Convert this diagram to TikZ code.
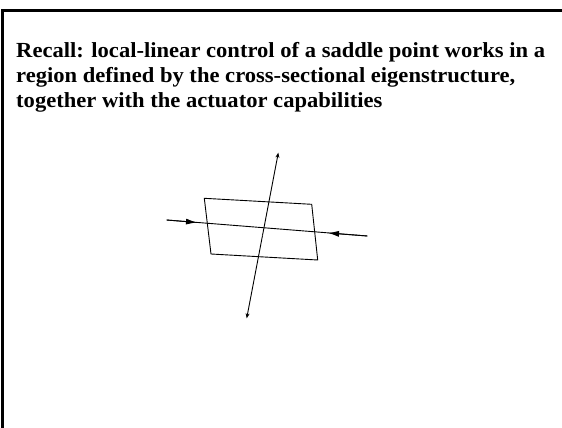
\documentclass[tikz,border=0pt]{standalone}
\usepackage{fontspec}
\setmainfont{Liberation Serif}
\usetikzlibrary{arrows.meta}
\begin{document}
\begin{tikzpicture}[x=1pt,y=-1pt,
  frame/.style={line width=3pt},
  thin/.style={line width=0.9pt},
  tip/.style={-{Stealth[length=5pt,width=4pt]}},
  midtip/.style={-{Latex[length=11pt,width=6pt]}},
  titlefont/.style={font=\fontsize{21.5}{25}\selectfont\bfseries,xscale=1.05,transform shape,anchor=base west,inner sep=0pt}]
\useasboundingbox (0,0) rectangle (562,428);
\draw[frame] (2.5,428) -- (2.5,10.5) -- (562,10.5);
\node[titlefont] (l1) at (16,57.3)
 {Recall: local-linear control of a saddle point works in a};
\node[titlefont] (l2) at (16,82.3)
 {region defined by the cross-sectional eigenstructure,};
\node[titlefont] (l3) at (16,107.3)
 {together with the actuator capabilities};
% parallelogram
\coordinate (tl) at (204.3,198.3);
\coordinate (tr) at (311.7,204.3);
\coordinate (br) at (317.7,260);
\coordinate (bl) at (211,254);
\draw[thin] (tl) -- (tr) -- (br) -- (bl) -- cycle;
% vertical (unstable) axis
\coordinate (vt) at (278.3,152.7);
\coordinate (vb) at (246.7,318.3);
\coordinate (vc) at (262.5,235.5);
\draw[thin,tip] (vc) -- (vt);
\draw[thin,tip] (vc) -- (vb);
% horizontal (stable) axis
\coordinate (hl) at (166.7,220);
\coordinate (hr) at (367.3,236);
\coordinate (al) at (197,222.5);
\coordinate (ar) at (328,233);
\draw[thin] (hl) -- (hr);
\draw[thin,midtip] (hl) -- (al);
\draw[thin,midtip] (hr) -- (ar);
\end{tikzpicture}
\end{document}
